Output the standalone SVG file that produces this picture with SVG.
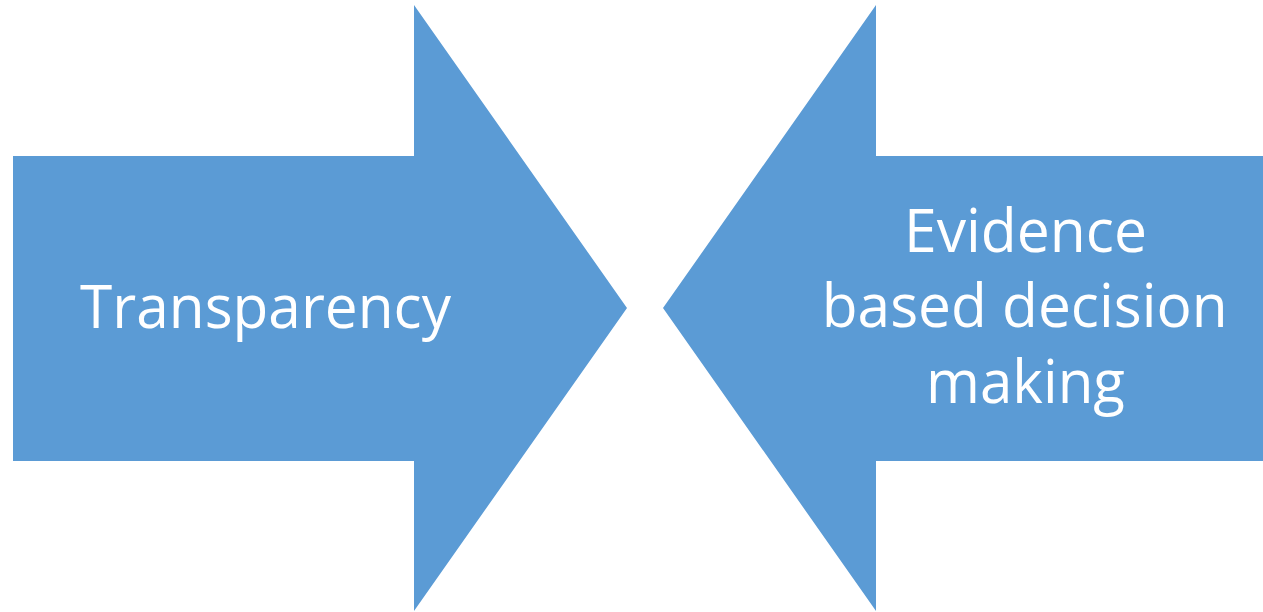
<svg xmlns="http://www.w3.org/2000/svg" width="1263" height="612" viewBox="0 0 1263 612">
<style>
.arrow{fill:#5B9BD5;stroke:none}
.lbl{fill:#FFFFFF;font-family:"Open Sans","Liberation Sans",sans-serif;font-size:60px;text-anchor:middle}
</style>
<rect width="1263" height="612" fill="#FFFFFF"/>
<g id="arrow-transparency">
<polygon class="arrow" points="13,156 414,156 414,5 627,308 414,611 414,461 13,461"/>
<text class="lbl" x="265.5" y="328" textLength="371" lengthAdjust="spacingAndGlyphs">Transparency</text>
</g>
<g id="arrow-evidence">
<polygon class="arrow" points="1263,156 876,156 876,5 663,308 876,611 876,461 1263,461"/>
<text class="lbl" x="1025.5" y="251.5" textLength="243" lengthAdjust="spacingAndGlyphs">Evidence</text>
<text class="lbl" x="1024.7" y="327" textLength="406" lengthAdjust="spacingAndGlyphs">based decision</text>
<text class="lbl" x="1025.5" y="403" textLength="199" lengthAdjust="spacingAndGlyphs">making</text>
</g>
<g id="connectors"></g>
</svg>
